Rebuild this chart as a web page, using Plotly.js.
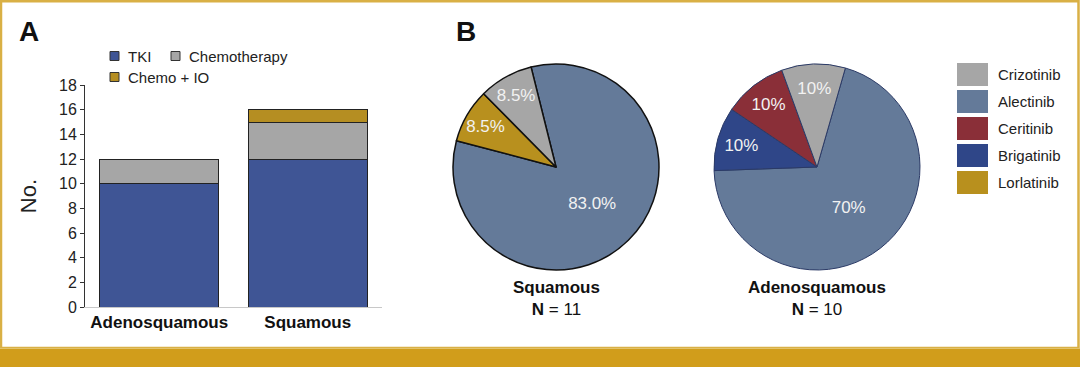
<!DOCTYPE html>
<html>
<head>
<meta charset="utf-8">
<script src="https://cdn.plot.ly/plotly-3.0.1.min.js"></script>
<style>
  html, body { margin: 0; padding: 0; background: #fff; }
  #chart { width: 1080px; height: 367px; }
</style>
</head>
<body>
<div id="chart"></div>
<script>
// ---------- Data ----------
// Panel A: stacked bars
const histologies = ['Adenosquamous', 'Squamous'];
const tkiCounts = [10, 12];
const chemoCounts = [2, 3];
const chemoIOCounts = [0, 1];
const barSeriesNames = ['TKI', 'Chemotherapy', 'Chemo + IO'];
const yTickValues = [0, 2, 4, 6, 8, 10, 12, 14, 16, 18];

// Panel B: pies
const pieTitles = ['Squamous', 'Adenosquamous'];
const pieN = [11, 10];
const squamousDrugs = ['Alectinib', 'Lorlatinib', 'Crizotinib'];
const squamousPct = [83.0, 8.5, 8.5];
const adenoDrugs = ['Alectinib', 'Brigatinib', 'Ceritinib', 'Crizotinib'];
const adenoPct = [70, 10, 10, 10];
const legendDrugs = ['Crizotinib', 'Alectinib', 'Ceritinib', 'Brigatinib', 'Lorlatinib'];

// ---------- Styles ----------
const W = 1080, H = 367;
const px = x => x / W;
const py = y => 1 - y / H;
const FONT = 'Liberation Sans, Arial, Helvetica, sans-serif';
const barColors = ['#3F5595', '#A6A6A6', '#B58E22'];
const drugColors = {
  Crizotinib: '#A6A6A6',
  Alectinib: '#647A99',
  Ceritinib: '#8A2F38',
  Brigatinib: '#2F4688',
  Lorlatinib: '#B8901E'
};

const barValues = [tkiCounts, chemoCounts, chemoIOCounts];
const traces = barValues.map((vals, i) => ({
  type: 'bar',
  x: histologies,
  y: vals,
  name: barSeriesNames[i],
  marker: { color: barColors[i], line: { color: '#222', width: 1 } },
  showlegend: false,
  hoverinfo: 'x+y+name'
}));

traces.push({
  type: 'pie',
  labels: squamousDrugs,
  values: squamousPct,
  sort: false,
  direction: 'clockwise',
  rotation: -14,
  marker: { colors: squamousDrugs.map(d => drugColors[d]), line: { color: '#111', width: 1.5 } },
  texttemplate: '%{value:.1f}%',
  textposition: 'inside',
  insidetextorientation: 'horizontal',
  textfont: { family: FONT, size: 17, color: '#F2F2F2' },
  domain: { x: [px(453), px(659)], y: [py(271), py(63)] },
  showlegend: false
});
traces.push({
  type: 'pie',
  labels: adenoDrugs,
  values: adenoPct,
  sort: false,
  direction: 'clockwise',
  rotation: 16,
  marker: { colors: adenoDrugs.map(d => drugColors[d]), line: { color: '#2B3A66', width: 1 } },
  texttemplate: '%{value}%',
  textposition: 'inside',
  insidetextorientation: 'horizontal',
  textfont: { family: FONT, size: 17, color: '#F2F2F2' },
  domain: { x: [px(714), px(920)], y: [py(271), py(63)] },
  showlegend: false
});

// ---------- Shapes & annotations ----------
const shapes = [];
const annotations = [];

// frame
shapes.push({ type: 'rect', xref: 'paper', yref: 'paper', x0: px(1), x1: px(1078.5), y0: py(348), y1: py(1.2),
  line: { color: '#D9B045', width: 2.5 }, layer: 'below' });
shapes.push({ type: 'rect', xref: 'paper', yref: 'paper', x0: 0, x1: 1, y0: 0, y1: py(348),
  fillcolor: '#D19D1B', line: { width: 0 } });
shapes.push({ type: 'line', xref: 'paper', yref: 'paper', x0: 0, x1: 1, y0: py(348.5), y1: py(348.5),
  line: { color: '#E2C26A', width: 1 } });

// panel letters
annotations.push({ text: '<b>A</b>', xref: 'paper', yref: 'paper', x: px(17), y: py(32), xanchor: 'left', yanchor: 'middle',
  showarrow: false, font: { family: FONT, size: 28, color: '#111' } });
annotations.push({ text: '<b>B</b>', xref: 'paper', yref: 'paper', x: px(454), y: py(32), xanchor: 'left', yanchor: 'middle',
  showarrow: false, font: { family: FONT, size: 28, color: '#111' } });

// bar legend
barSeriesNames.forEach((name, i) => {
  const col = i % 2, row = Math.floor(i / 2);
  const x0 = col === 0 ? 110 : 171;
  const yc = 56 + row * 21;
  shapes.push({ type: 'rect', xref: 'paper', yref: 'paper', x0: px(x0), x1: px(x0 + 9), y0: py(yc + 4.5), y1: py(yc - 4.5),
    fillcolor: barColors[i], line: { color: '#333', width: 1 } });
  annotations.push({ text: name, xref: 'paper', yref: 'paper', x: px(x0 + 16), y: py(yc), xanchor: 'left', yanchor: 'middle',
    showarrow: false, font: { family: FONT, size: 15, color: '#222' } });
});

// pie captions
const pieCenters = [556, 817];
pieTitles.forEach((t, i) => {
  annotations.push({ text: '<b>' + t + '</b><br><b>N</b> = ' + pieN[i], xref: 'paper', yref: 'paper',
    x: px(pieCenters[i]), y: py(298), xanchor: 'center', yanchor: 'middle', align: 'center',
    showarrow: false, font: { family: FONT, size: 17, color: '#111' } });
});

// pie legend
legendDrugs.forEach((d, i) => {
  const yc = 74.5 + i * 27;
  shapes.push({ type: 'rect', xref: 'paper', yref: 'paper', x0: px(957), x1: px(988), y0: py(yc + 11.5), y1: py(yc - 11.5),
    fillcolor: drugColors[d], line: { width: 0 } });
  annotations.push({ text: d, xref: 'paper', yref: 'paper', x: px(996), y: py(yc), xanchor: 'left', yanchor: 'middle',
    showarrow: false, font: { family: FONT, size: 15, color: '#222' } });
});

const layout = {
  width: W, height: H,
  margin: { l: 0, r: 0, t: 0, b: 0 },
  paper_bgcolor: '#fff',
  plot_bgcolor: '#fff',
  barmode: 'stack',
  bargap: 0.2,
  showlegend: false,
  font: { family: FONT, color: '#222' },
  xaxis: {
    domain: [px(85), px(382)],
    range: [-0.5, 1.5],
    showline: true, linecolor: '#C8C8C8', linewidth: 1,
    ticks: '', showgrid: false, zeroline: false,
    tickfont: { family: FONT, size: 17, color: '#111' },
    ticktext: histologies.map(h => '<b>' + h + '</b>'),
    tickvals: histologies,
    tickmode: 'array'
  },
  yaxis: {
    domain: [py(307), py(85)],
    range: [0, 18],
    tickvals: yTickValues,
    showline: true, linecolor: '#333', linewidth: 1,
    ticks: 'outside', ticklen: 4, tickcolor: '#333',
    showgrid: false, zeroline: false,
    tickfont: { family: FONT, size: 16, color: '#222' },
    title: { text: 'No.', font: { family: FONT, size: 22, color: '#222' }, standoff: 16 }
  },
  uniformtext: { minsize: 16, mode: 'show' },
  shapes: shapes,
  annotations: annotations
};

Plotly.newPlot('chart', traces, layout, { displayModeBar: false, staticPlot: true });
</script>
</body>
</html>
